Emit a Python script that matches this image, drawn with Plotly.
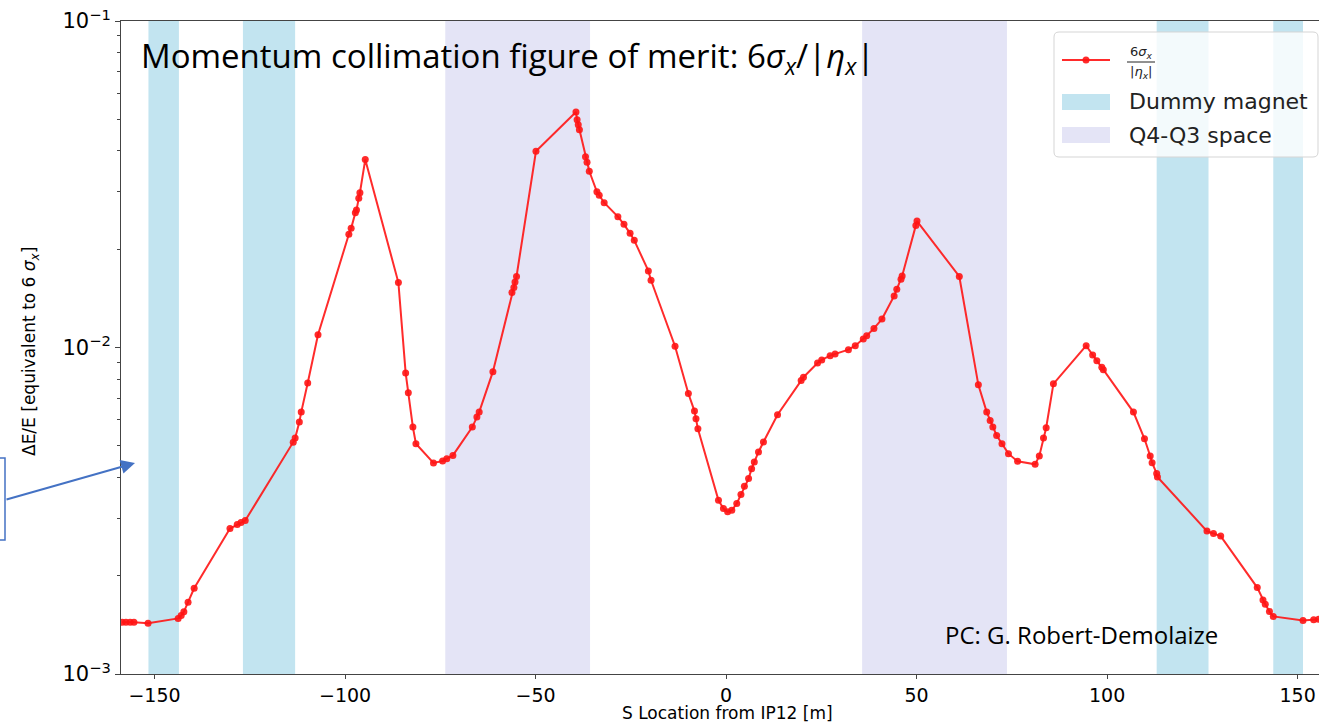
import plotly.graph_objects as go

# ---- data ----
s_pos = [-158.5, -157.5, -156.4, -155.4, -151.7, -143.8, -143.0, -142.3, -141.2, -139.6,
         -130.2, -128.3, -127.3, -126.2, -113.6, -113.1, -112.0, -111.5, -109.8, -107.1,
         -99.0, -98.4, -97.3, -97.0, -96.4, -96.1, -94.7, -86.0, -84.1, -83.4,
         -82.2, -81.4, -76.8, -74.4, -73.3, -71.7, -66.6, -65.4, -64.8, -61.2,
         -56.2, -55.7, -55.4, -55.0, -49.9, -39.4, -39.1, -38.8, -38.5, -36.9,
         -36.5, -35.9, -33.9, -33.3, -32.0, -28.4, -26.8, -25.2, -24.1, -20.4,
         -19.7, -13.4, -9.9, -8.3, -7.9, -7.4, -2.0, -0.7, 0.4, 1.5,
         2.8, 3.9, 4.8, 5.9, 6.7, 7.4, 8.5, 9.8, 13.5, 19.7,
         20.3, 24.0, 25.1, 27.3, 28.6, 32.1, 33.9, 36.0, 36.9, 38.8,
         40.9, 44.1, 44.8, 45.9, 46.2, 49.8, 50.1, 61.2, 66.2, 68.4,
         69.3, 70.0, 71.0, 72.4, 74.1, 76.5, 81.1, 82.2, 83.3, 84.0,
         85.9, 94.5, 96.2, 97.3, 98.6, 99.0, 106.9, 109.8, 111.3, 111.8,
         113.0, 113.2, 126.2, 127.9, 129.8, 139.4, 140.9, 141.5, 142.6, 143.6,
         151.4, 154.2, 155.5]
merit = [0.00144, 0.00144, 0.00144, 0.00144, 0.00143, 0.00148, 0.00151, 0.00155, 0.00166, 0.00183,
         0.00279, 0.00287, 0.00291, 0.00295, 0.00513, 0.00528, 0.00591, 0.00634, 0.00779, 0.01094,
         0.02222, 0.02317, 0.02587, 0.02635, 0.02867, 0.02978, 0.03764, 0.01581, 0.008357, 0.007262,
         0.005706, 0.005073, 0.004430, 0.004493, 0.004566, 0.004673, 0.005706, 0.006122, 0.006341, 0.008435,
         0.01474, 0.01527, 0.01588, 0.01650, 0.03990, 0.05263, 0.04985, 0.04813, 0.04648, 0.03836,
         0.03693, 0.03466, 0.02998, 0.02928, 0.02776, 0.02516, 0.02383, 0.02237, 0.02129, 0.01716,
         0.01607, 0.01009, 0.007226, 0.006386, 0.006049, 0.005639, 0.003405, 0.003212, 0.003138, 0.003174,
         0.003327, 0.003545, 0.003758, 0.003967, 0.004256, 0.004462, 0.004786, 0.005134, 0.006221, 0.007918,
         0.008110, 0.008968, 0.009158, 0.009441, 0.009554, 0.009847, 0.01013, 0.01062, 0.01086, 0.01144,
         0.01222, 0.01439, 0.01509, 0.01619, 0.01657, 0.02366, 0.02439, 0.01650, 0.007685, 0.006341,
         0.005977, 0.005706, 0.005378, 0.005073, 0.004730, 0.004480, 0.004386, 0.004653, 0.005280, 0.005679,
         0.007738, 0.01013, 0.009486, 0.009114, 0.008699, 0.008555, 0.006341, 0.005254, 0.004653, 0.004439,
         0.004109, 0.004015, 0.002740, 0.002695, 0.002645, 0.001839, 0.001686, 0.001636, 0.001554, 0.001501,
         0.001459, 0.001465, 0.001472]

dummy_magnet_bands = [(-151.6, -143.6), (-126.8, -113.1), (113.0, 126.6), (143.6, 151.4)]
q4_q3_bands = [(-73.7, -35.7), (35.7, 73.7)]

x_ticks = [-150, -100, -50, 0, 50, 100, 150]
x_tick_text = ["\u2212150", "\u2212100", "\u221250", "0", "50", "100", "150"]
y_ticks = [0.001, 0.01, 0.1]
y_tick_text = ["10<sup>\u22123</sup>", "10<sup>\u22122</sup>", "10<sup>\u22121</sup>"]
y_minor = [m * 10.0 ** e for e in (-3, -2) for m in range(2, 10)]

legend_labels = ["Dummy magnet", "Q4-Q3 space"]

Y_LO, Y_HI = 1e-3, 1e-1
X_LO, X_HI = -158.8, 155.6

# ---- layout geometry (pixels) ----
W, H = 1319, 722
L, R, T, B = 121, 0, 21, 48
PW, PH = W - L - R, H - T - B


def px_x(px):
    return (px - L) / PW


def px_y(py):
    return (H - B - py) / PH


fig = go.Figure()

band_color_dm = "#C2E4F0"
band_color_q = "#E4E4F6"
line_color = "rgba(255,20,20,0.9)"

for a, b in dummy_magnet_bands:
    fig.add_trace(go.Scatter(
        x=[a, b, b, a, a], y=[Y_LO, Y_LO, Y_HI, Y_HI, Y_LO],
        mode="lines", fill="toself", fillcolor=band_color_dm,
        line=dict(width=0, color=band_color_dm), showlegend=False, hoverinfo="skip"))

for a, b in q4_q3_bands:
    fig.add_trace(go.Scatter(
        x=[a, b, b, a, a], y=[Y_LO, Y_LO, Y_HI, Y_HI, Y_LO],
        mode="lines", fill="toself", fillcolor=band_color_q,
        line=dict(width=0, color=band_color_q), showlegend=False, hoverinfo="skip"))

fig.add_trace(go.Scatter(
    x=s_pos, y=merit, mode="lines+markers",
    line=dict(color=line_color, width=2),
    marker=dict(color=line_color, size=7),
    showlegend=False))

axis_font = dict(family="DejaVu Sans", size=19, color="#000")

fig.update_layout(
    width=W, height=H,
    margin=dict(l=L, r=R, t=T, b=B, pad=0, autoexpand=False),
    paper_bgcolor="white", plot_bgcolor="white",
    showlegend=False,
    xaxis=dict(range=[X_LO, X_HI], tickvals=x_ticks, ticktext=x_tick_text,
               showgrid=False, zeroline=False, showline=True, linecolor="#444",
               linewidth=1, mirror=True, ticks="outside", ticklen=4, tickcolor="#444",
               tickfont=axis_font, automargin=False),
    yaxis=dict(type="log", range=[-3, -1], tickvals=y_ticks, ticktext=y_tick_text,
               showgrid=False, zeroline=False, showline=True, linecolor="#444",
               linewidth=1, ticks="outside", ticklen=5, tickcolor="#444",
               tickfont=dict(family="DejaVu Sans", size=21, color="#000"), automargin=False,
               minor=dict(tickvals=y_minor, ticks="outside", ticklen=3, tickcolor="#444",
                          showgrid=False)),
)

# axis titles as annotations
fig.add_annotation(text="S Location from IP12 [m]", xref="paper", yref="paper",
                   x=px_x(727), y=px_y(713), xanchor="center", yanchor="middle",
                   showarrow=False, font=dict(family="DejaVu Sans", size=17, color="#000"))
fig.add_annotation(text="\u0394E/E [equivalent to 6 <i>σ<sub>x</sub></i>]", xref="paper", yref="paper",
                   x=px_x(30), y=px_y(352), xanchor="center", yanchor="middle", textangle=-90,
                   showarrow=False, font=dict(family="DejaVu Sans", size=17, color="#000"))

# overlay texts
fig.add_annotation(text="Momentum collimation figure of merit: 6<i>σ<sub>x</sub></i>/|<i>η<sub>x</sub></i>|",
                   xref="paper", yref="paper", x=px_x(139), y=px_y(58),
                   xanchor="left", yanchor="middle", showarrow=False,
                   font=dict(family="Open Sans", size=33, color="#000"))
fig.add_annotation(text="PC: G. Robert-Demolaize", xref="paper", yref="paper",
                   x=px_x(943), y=px_y(634), xanchor="left", yanchor="middle", showarrow=False,
                   font=dict(family="Open Sans", size=24, color="#000"))

# ---- legend (drawn manually to match the matplotlib legend) ----
lx0, lx1, ly0, ly1, r = 1054, 1318, 32, 157, 5
path = (f"M {px_x(lx0 + r)},{px_y(ly0)} L {px_x(lx1 - r)},{px_y(ly0)} "
        f"Q {px_x(lx1)},{px_y(ly0)} {px_x(lx1)},{px_y(ly0 + r)} "
        f"L {px_x(lx1)},{px_y(ly1 - r)} Q {px_x(lx1)},{px_y(ly1)} {px_x(lx1 - r)},{px_y(ly1)} "
        f"L {px_x(lx0 + r)},{px_y(ly1)} Q {px_x(lx0)},{px_y(ly1)} {px_x(lx0)},{px_y(ly1 - r)} "
        f"L {px_x(lx0)},{px_y(ly0 + r)} Q {px_x(lx0)},{px_y(ly0)} {px_x(lx0 + r)},{px_y(ly0)} Z")
fig.add_shape(type="path", path=path, xref="paper", yref="paper",
              fillcolor="rgba(255,255,255,0.8)", line=dict(color="#D5D5D5", width=1), layer="above")
# line entry
fig.add_shape(type="line", xref="paper", yref="paper", x0=px_x(1062), x1=px_x(1110),
              y0=px_y(60), y1=px_y(60), line=dict(color=line_color, width=2), layer="above")
fig.add_shape(type="circle", xref="paper", yref="paper", x0=px_x(1082.5), x1=px_x(1089.5),
              y0=px_y(63.5), y1=px_y(56.5), fillcolor=line_color, line=dict(width=0), layer="above")
fig.add_annotation(text="6<i>σ<sub>x</sub></i>", xref="paper", yref="paper",
                   x=px_x(1141), y=px_y(52), xanchor="center", yanchor="middle", showarrow=False,
                   font=dict(family="DejaVu Sans", size=13, color="#222"))
fig.add_shape(type="line", xref="paper", yref="paper", x0=px_x(1127), x1=px_x(1155),
              y0=px_y(62), y1=px_y(62), line=dict(color="#222", width=1), layer="above")
fig.add_annotation(text="|<i>η<sub>x</sub></i>|", xref="paper", yref="paper",
                   x=px_x(1141), y=px_y(73), xanchor="center", yanchor="middle", showarrow=False,
                   font=dict(family="DejaVu Sans", size=13, color="#222"))
# patch entries
for (label, color, yc) in [(legend_labels[0], band_color_dm, 102), (legend_labels[1], band_color_q, 135)]:
    fig.add_shape(type="rect", xref="paper", yref="paper", x0=px_x(1062), x1=px_x(1110),
                  y0=px_y(yc + 8), y1=px_y(yc - 8), fillcolor=color, line=dict(width=0), layer="above")
    fig.add_annotation(text=label, xref="paper", yref="paper", x=px_x(1127), y=px_y(yc),
                       xanchor="left", yanchor="middle", showarrow=False,
                       font=dict(family="DejaVu Sans", size=22, color="#222"))

# blue box and arrow
fig.add_shape(type="rect", xref="paper", yref="paper",
              x0=px_x(-10), x1=px_x(5), y0=px_y(540), y1=px_y(458),
              line=dict(color="#4472C4", width=1.5), fillcolor="rgba(0,0,0,0)", layer="above")
fig.add_annotation(text="", xref="paper", yref="paper", x=px_x(135), y=px_y(463),
                   ax=5 - 135, ay=500 - 463, axref="pixel", ayref="pixel",
                   showarrow=True, arrowhead=2, arrowsize=1.4, arrowwidth=2,
                   arrowcolor="#4472C4")

fig.write_html("out.html", config={"displayModeBar": False},
               post_script="document.body.style.margin='0';")
